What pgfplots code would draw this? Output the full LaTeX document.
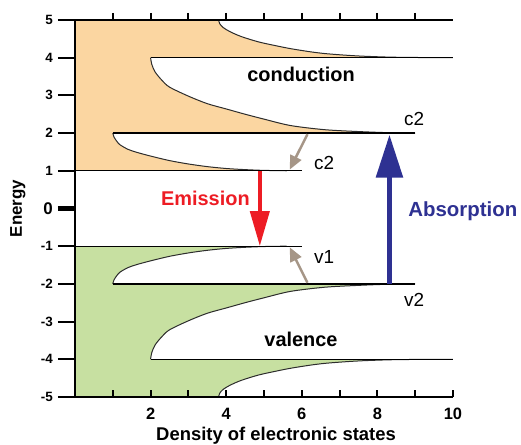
\documentclass[border=0pt]{standalone}
\usepackage{fontspec}
\setmainfont{Liberation Sans}
\usepackage{pgfplots}
\pgfplotsset{compat=1.18}
\usepackage{pgfplotstable}
\usetikzlibrary{arrows.meta}

\definecolor{orfill}{RGB}{251,214,161}
\definecolor{grfill}{RGB}{199,224,161}
\definecolor{emred}{RGB}{237,28,36}
\definecolor{abblue}{RGB}{46,49,146}
\definecolor{arrgray}{RGB}{166,150,135}
\definecolor{curvecol}{RGB}{45,45,45}

% conduction band subband edges (DOS curves), x = density, y = energy
\pgfplotstableread{
x y
5.6 1.0
5.0 1.01
4.5 1.03
4.0 1.06
3.5 1.11
3.0 1.18
2.5 1.27
2.0 1.39
1.63 1.49
1.4 1.57
1.19 1.69
1.1 1.79
1.03 1.9
1.0 2.0
}\cUone
\pgfplotstableread{
x y
9.0 2.0
8.3 2.01
7.5 2.04
6.6 2.09
5.7 2.2
5.0 2.37
4.5 2.5
4.0 2.64
3.5 2.78
3.0 2.98
2.5 3.22
2.3 3.4
2.12 3.62
2.03 3.83
2.0 4.0
}\cUtwo
\pgfplotstableread{
x y
10 4.0
9.0 4.005
8.3 4.015
7.6 4.04
7.1 4.07
6.6 4.11
6.2 4.16
5.7 4.24
5.3 4.32
4.85 4.42
4.4 4.56
4.1 4.69
3.92 4.8
3.83 4.9
3.8 5.0
}\cUthree
% valence band
\pgfplotstableread{
x y
5.6 -1.0
5.0 -1.01
4.5 -1.03
4.0 -1.06
3.5 -1.11
3.0 -1.18
2.5 -1.27
2.0 -1.39
1.63 -1.49
1.4 -1.57
1.19 -1.69
1.1 -1.79
1.03 -1.9
1.0 -2.0
}\cLone
\pgfplotstableread{
x y
9.0 -2.0
8.3 -2.01
7.5 -2.04
6.6 -2.09
5.7 -2.2
5.0 -2.37
4.5 -2.5
4.0 -2.64
3.5 -2.78
3.0 -2.98
2.5 -3.22
2.3 -3.4
2.12 -3.62
2.03 -3.83
2.0 -4.0
}\cLtwo
\pgfplotstableread{
x y
10 -4.0
9.0 -4.005
8.3 -4.015
7.6 -4.04
7.1 -4.07
6.6 -4.11
6.2 -4.16
5.7 -4.24
5.3 -4.32
4.85 -4.42
4.4 -4.56
4.1 -4.69
3.92 -4.8
3.83 -4.9
3.8 -5.0
}\cLthree
% filled regions (outline of the occupied DOS areas)
\pgfplotstableread{
x y
0 1
5.6 1.0
5.0 1.01
4.5 1.03
4.0 1.06
3.5 1.11
3.0 1.18
2.5 1.27
2.0 1.39
1.8 1.44
1.63 1.49
1.5 1.53
1.4 1.57
1.28 1.63
1.19 1.69
1.1 1.79
1.05 1.85
1.03 1.9
1.01 1.95
1.0 2.0
9.0 2.0
8.3 2.01
7.5 2.04
6.6 2.09
5.7 2.2
5.0 2.37
4.5 2.5
4.0 2.64
3.5 2.78
3.0 2.98
2.7 3.11
2.5 3.22
2.3 3.4
2.2 3.5
2.12 3.62
2.06 3.72
2.03 3.83
2.01 3.92
2.0 4.0
10 4.0
9.0 4.005
8.3 4.015
7.6 4.04
7.1 4.07
6.6 4.11
6.2 4.16
5.7 4.24
5.3 4.32
4.85 4.42
4.4 4.56
4.1 4.69
4.0 4.74
3.92 4.8
3.86 4.85
3.83 4.9
3.81 4.95
3.8 5.0
0 5
}\orangeArea
\pgfplotstableread{
x y
0 -1
5.6 -1.0
5.0 -1.01
4.5 -1.03
4.0 -1.06
3.5 -1.11
3.0 -1.18
2.5 -1.27
2.0 -1.39
1.8 -1.44
1.63 -1.49
1.5 -1.53
1.4 -1.57
1.28 -1.63
1.19 -1.69
1.1 -1.79
1.05 -1.85
1.03 -1.9
1.01 -1.95
1.0 -2.0
9.0 -2.0
8.3 -2.01
7.5 -2.04
6.6 -2.09
5.7 -2.2
5.0 -2.37
4.5 -2.5
4.0 -2.64
3.5 -2.78
3.0 -2.98
2.7 -3.11
2.5 -3.22
2.3 -3.4
2.2 -3.5
2.12 -3.62
2.06 -3.72
2.03 -3.83
2.01 -3.92
2.0 -4.0
10 -4.0
9.0 -4.005
8.3 -4.015
7.6 -4.04
7.1 -4.07
6.6 -4.11
6.2 -4.16
5.7 -4.24
5.3 -4.32
4.85 -4.42
4.4 -4.56
4.1 -4.69
4.0 -4.74
3.92 -4.8
3.86 -4.85
3.83 -4.9
3.81 -4.95
3.8 -5.0
0 -5
}\greenArea

\pgfplotsset{
  base/.style={scale only axis, width=378bp, height=377bp,
    xmin=0, xmax=10, ymin=-5, ymax=5,
    axis line style={line width=2.5bp, black, -},
    tick style={line width=2bp, black}},
}

\begin{document}
\begin{tikzpicture}
\begin{axis}[base, clip=false, axis on top,
  axis x line=bottom, axis y line=none, x axis line style={-},
  tick align=inside, major tick length=7bp,
  xtick={1,...,10}, xticklabels={,2,,4,,6,,8,,10},
  xticklabel style={font=\fontsize{16.5}{18}\selectfont\bfseries, inner sep=0pt, anchor=north, yshift=-11bp},
  xlabel={Density of electronic states},
  xlabel style={font=\fontsize{18.5}{20}\selectfont\bfseries, at={(axis description cs:0.532,-0.1155)}, anchor=base, inner sep=0pt},
]
% filled areas
\addplot[fill=orfill, draw=none] table {\orangeArea};
\addplot[fill=grfill, draw=none] table {\greenArea};
% outlines
\addplot[curvecol, line width=1bp, smooth] table {\cUone};
\addplot[curvecol, line width=1bp, smooth] table {\cUtwo};
\addplot[curvecol, line width=1bp, smooth] table {\cUthree};
\addplot[curvecol, line width=1bp, smooth] table {\cLone};
\addplot[curvecol, line width=1bp, smooth] table {\cLtwo};
\addplot[curvecol, line width=1bp, smooth] table {\cLthree};
% subband edge lines
\addplot[black, line width=1.3bp] coordinates {(0,1) (6,1)};
\addplot[black, line width=1.3bp] coordinates {(1,2) (9,2)};
\addplot[black, line width=1.3bp] coordinates {(2,4) (10,4)};
\addplot[black, line width=1.3bp] coordinates {(0,-1) (6,-1)};
\addplot[black, line width=1.3bp] coordinates {(1,-2) (9,-2)};
\addplot[black, line width=1.3bp] coordinates {(2,-4) (10,-4)};
% arrows
\addplot[emred, line width=4bp, -{Triangle[width=19bp, length=35bp]}] coordinates {(4.89,1) (4.89,-1)};
\addplot[abblue, line width=5.5bp, -{Triangle[width=26bp, length=43bp]}] coordinates {(8.32,-2) (8.32,1.96)};
\addplot[arrgray, line width=2.5bp, -{Triangle[width=12bp, length=14bp]}] coordinates {(6.15,1.97) (5.68,1.03)};
\addplot[arrgray, line width=2.5bp, -{Triangle[width=12bp, length=14bp]}] coordinates {(6.15,-1.97) (5.68,-1.03)};
% texts
\node[font=\fontsize{20}{22}\selectfont\bfseries, anchor=base] at (axis cs:5.98,3.36) {conduction};
\node[font=\fontsize{20}{22}\selectfont\bfseries, anchor=base] at (axis cs:5.98,-3.67) {valence};
\node[font=\fontsize{20}{22}\selectfont\bfseries, text=emred, anchor=base] at (axis cs:3.45,0.09) {Emission};
\node[font=\fontsize{20.5}{22}\selectfont\bfseries, text=abblue, anchor=base] at (axis cs:10.26,-0.22) {Absorption};
\node[font=\fontsize{19}{20}\selectfont, anchor=base] at (axis cs:8.97,2.21) {c2};
\node[font=\fontsize{19}{20}\selectfont, anchor=base] at (axis cs:6.59,1.03) {c2};
\node[font=\fontsize{19}{20}\selectfont, anchor=base] at (axis cs:6.59,-1.45) {v1};
\node[font=\fontsize{19}{20}\selectfont, anchor=base] at (axis cs:8.97,-2.6) {v2};
\coordinate (bbSW) at (axis cs:-1.984,-6.27);
\coordinate (bbNE) at (axis cs:11.8,5.53);
\end{axis}
\begin{axis}[base,
  axis x line=none, axis y line=left, y axis line style={-},
  tick align=outside, major tick length=17bp,
  ytick={-5,...,5},
  yticklabels={-5,-4,-3,-2,-1,{\fontsize{17}{17}\selectfont 0},1,2,3,4,5},
  yticklabel style={font=\fontsize{13.5}{15}\selectfont\bfseries, inner sep=0pt, anchor=east, xshift=-5bp},
  extra y ticks={0}, extra y tick labels={},
  extra y tick style={major tick style={line width=4.5bp}},
  ylabel={Energy},
  ylabel style={font=\fontsize{17}{18}\selectfont\bfseries, at={(axis description cs:-0.151,0.5)}, anchor=center},
]
\end{axis}
\begin{axis}[base,
  axis x line=top, axis y line=none, x axis line style={-},
  tick align=outside, major tick length=7bp,
  xtick={1,...,9}, xticklabels={},
]
\end{axis}
\pgfresetboundingbox
\useasboundingbox (bbSW) rectangle (bbNE);
\end{tikzpicture}
\end{document}
